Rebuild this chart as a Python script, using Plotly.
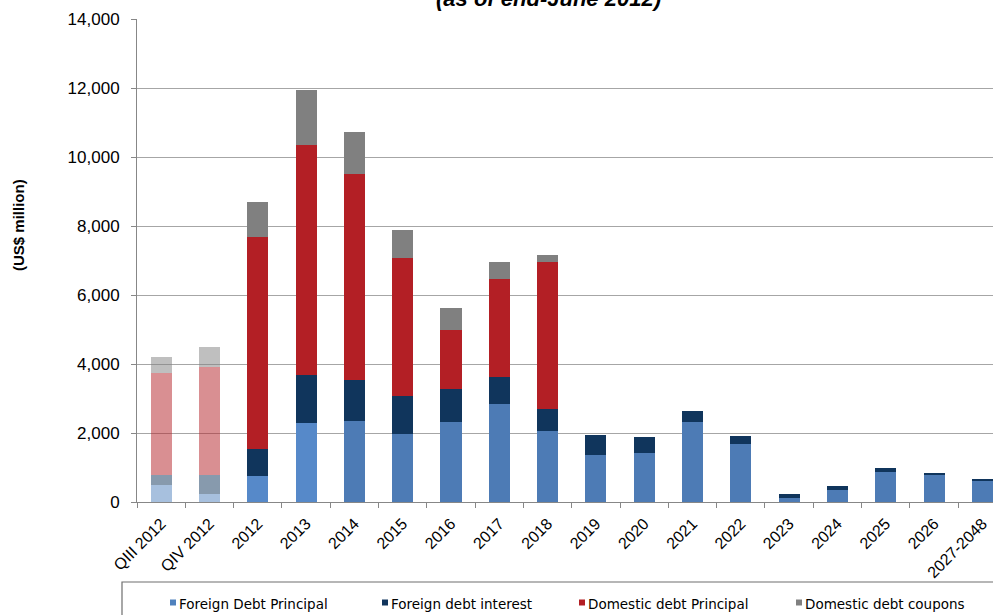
import plotly.graph_objects as go

# Debt service schedule, US$ million
categories = ["QIII 2012", "QIV 2012", "2012", "2013", "2014", "2015", "2016", "2017",
              "2018", "2019", "2020", "2021", "2022", "2023", "2024", "2025", "2026",
              "2027-2048"]
foreign_principal = [490, 240, 750, 2290, 2350, 1970, 2320, 2840, 2060, 1360, 1430,
                     2320, 1690, 115, 340, 880, 790, 610]
foreign_interest = [290, 540, 790, 1390, 1190, 1110, 960, 790, 645, 580, 445, 310,
                    220, 125, 135, 105, 50, 40]
domestic_principal = [2960, 3130, 6140, 6670, 5960, 4000, 1700, 2830, 4245, 0, 0, 0,
                      0, 0, 0, 0, 0, 0]
domestic_coupons = [460, 580, 1010, 1590, 1235, 810, 630, 490, 205, 0, 0, 0, 0, 0, 0,
                    0, 0, 0]
series_names = ["Foreign Debt Principal", "Foreign debt interest",
                "Domestic debt Principal", "Domestic debt coupons"]
title_text = "(as of end-June 2012)"
y_title = "(US$ million)"

N_QUARTERS = 2  # the two leading quarterly columns are drawn faded

FONT = "Liberation Sans, Arial, sans-serif"
base_colors = ["#4F81BD", "#10355C", "#B31F25", "#808080"]

# plot area in pixels
W, H = 993, 615
L, R, T, B = 137, 0, 19, 113
PW, PH = W - L - R, H - T - B


def px_x(px):
    return (px - L) / PW


def px_y(py):
    return (H - B - py) / PH


annual_cats = categories[N_QUARTERS:]
principal_colors = ["#5689C9" if c in ("2012", "2013") else "#4D7BB5" for c in annual_cats]
annual_colors = [principal_colors, base_colors[1], base_colors[2], base_colors[3]]

fig = go.Figure()
all_series = [foreign_principal, foreign_interest, domestic_principal, domestic_coupons]
for name, vals, base, ann_col in zip(series_names, all_series, base_colors, annual_colors):
    fig.add_trace(go.Bar(
        x=categories[:N_QUARTERS], y=vals[:N_QUARTERS], name=name,
        marker=dict(color=base, opacity=0.5, line=dict(width=0)),
        showlegend=False, hoverinfo="x+y+name"))
    fig.add_trace(go.Bar(
        x=annual_cats, y=vals[N_QUARTERS:], name=name,
        marker=dict(color=ann_col, line=dict(width=0)),
        showlegend=False, hoverinfo="x+y+name"))

axis_grey = "#878787"

fig.update_layout(
    width=W, height=H,
    margin=dict(l=L, r=R, t=T, b=B, autoexpand=False),
    template="none",
    paper_bgcolor="white", plot_bgcolor="white",
    barmode="stack", bargap=0.565,
    showlegend=False,
    font=dict(family=FONT, color="black"),
    xaxis=dict(
        type="category", categoryorder="array", categoryarray=categories,
        range=[-0.5, 17.22], tickangle=-45,
        ticks="outside", tickson="boundaries", ticklen=5, tickcolor=axis_grey,
        showline=True, linecolor=axis_grey, linewidth=1,
        showgrid=False, zeroline=False, automargin=False,
        tickfont=dict(family=FONT, size=16, color="black"),
        ticklabelstandoff=5,
    ),
    yaxis=dict(
        range=[0, 14000], dtick=2000, tickformat=",d",
        ticks="outside", ticklen=5, tickcolor=axis_grey,
        showline=True, linecolor=axis_grey, linewidth=1,
        showgrid=True, gridcolor="#A6A6A6", gridwidth=1,
        zeroline=False, automargin=False,
        tickfont=dict(family=FONT, size=17, color="black"),
        ticklabelstandoff=8,
    ),
)

annotations = [
    dict(text="<b><i>" + title_text + "</i></b>", xref="paper", yref="paper",
         x=px_x(548), y=px_y(-2), xanchor="center", yanchor="middle",
         showarrow=False, font=dict(family=FONT, size=22, color="black")),
    dict(text="<b>" + y_title + "</b>", xref="paper", yref="paper",
         x=px_x(18), y=px_y(225), xanchor="center", yanchor="middle",
         textangle=-90, showarrow=False,
         font=dict(family=FONT, size=15, color="black")),
]

shapes = [
    # legend frame
    dict(type="rect", xref="paper", yref="paper",
         x0=px_x(122), x1=px_x(1010), y0=px_y(582), y1=px_y(640),
         line=dict(color="#6E6E6E", width=1.2), fillcolor="rgba(0,0,0,0)"),
]

legend_text_x = [177, 389, 586, 803]
legend_colors = ["#4F81BD", "#10355C", "#B31F25", "#808080"]
for name, tx, col in zip(series_names, legend_text_x, legend_colors):
    shapes.append(dict(type="rect", xref="paper", yref="paper",
                       x0=px_x(tx - 7), x1=px_x(tx - 1),
                       y0=px_y(605.5), y1=px_y(599.5),
                       line=dict(width=0), fillcolor=col))
    annotations.append(dict(text=name, xref="paper", yref="paper",
                            x=px_x(tx), y=px_y(604), xanchor="left", yanchor="middle",
                            showarrow=False,
                            font=dict(family="DejaVu Sans, sans-serif", size=13.5,
                                      color="black")))

fig.update_layout(annotations=annotations, shapes=shapes)

fig.write_html("out.html")
